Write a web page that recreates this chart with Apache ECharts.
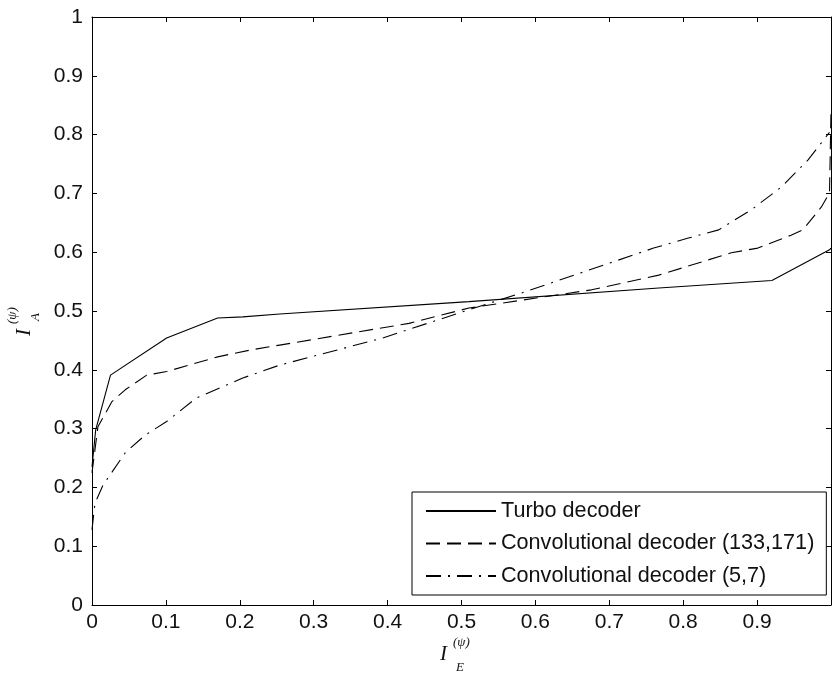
<!DOCTYPE html>
<html>
<head>
<meta charset="utf-8">
<script src="https://cdn.jsdelivr.net/npm/echarts@6/dist/echarts.min.js"></script>
<style>
html,body{margin:0;padding:0;background:#fff;}
#c{width:834px;height:675px;}
</style>
</head>
<body>
<div id="c"></div>
<script>
// Data
var turboX = [0, 0.005, 0.025, 0.101, 0.170, 0.204, 0.254, 0.510, 0.767, 0.920, 0.998, 1.0];
var turboY = [0.235, 0.298, 0.391, 0.454, 0.488, 0.490, 0.495, 0.516, 0.539, 0.552, 0.604, 0.607];

var conv133X = [0, 0.008, 0.027, 0.045, 0.074, 0.101, 0.170, 0.2155, 0.254, 0.429, 0.510, 0.676, 0.767, 0.865, 0.901, 0.946, 0.962, 0.987, 0.998, 1.0];
var conv133Y = [0.225, 0.303, 0.346, 0.366, 0.391, 0.397, 0.422, 0.434, 0.442, 0.479, 0.505, 0.536, 0.561, 0.599, 0.607, 0.629, 0.638, 0.677, 0.701, 0.84];

var conv57X = [0, 0.004, 0.015, 0.045, 0.072, 0.101, 0.141, 0.204, 0.254, 0.393, 0.510, 0.587, 0.760, 0.807, 0.848, 0.892, 0.933, 0.969, 0.998];
var conv57Y = [0.128, 0.173, 0.204, 0.259, 0.289, 0.312, 0.352, 0.386, 0.408, 0.454, 0.502, 0.533, 0.607, 0.624, 0.638, 0.672, 0.711, 0.757, 0.804];

var seriesNames = ['Turbo decoder', 'Convolutional decoder (133,171)', 'Convolutional decoder (5,7)'];
var xTicks = [0, 0.1, 0.2, 0.3, 0.4, 0.5, 0.6, 0.7, 0.8, 0.9];
var yTicks = [0, 0.1, 0.2, 0.3, 0.4, 0.5, 0.6, 0.7, 0.8, 0.9, 1];

function pairs(xs, ys) { return xs.map(function (x, i) { return [x, ys[i]]; }); }

var FONT = 'Liberation Sans, Arial, sans-serif';
var chart = echarts.init(document.getElementById('c'), null, {renderer: 'canvas'});

function fmt(v) {
  var r = Math.round(v * 10) / 10;
  if (r === 0) return '0';
  if (r === 1) return '1';
  return String(r);
}

var axisCommon = {
  type: 'value', min: 0, max: 1, interval: 0.1,
  axisLine: {show: true, onZero: false, lineStyle: {color: '#000', width: 1}},
  axisTick: {show: true, inside: true, length: 5, lineStyle: {color: '#000', width: 1}},
  splitLine: {show: false}
};

var option = {
  animation: false,
  backgroundColor: '#fff',
  grid: {left: 92, right: 1, top: 17, bottom: 70, containLabel: false},
  xAxis: [
    Object.assign({}, axisCommon, {
      position: 'bottom',
      axisLabel: {show: true, color: '#111', fontFamily: FONT, fontSize: 21, margin: 7,
        formatter: function (v) { return xTicks.indexOf(Math.round(v * 10) / 10) >= 0 ? fmt(v) : ''; }}
    }),
    Object.assign({}, axisCommon, {position: 'top', axisLabel: {show: false}})
  ],
  yAxis: [
    Object.assign({}, axisCommon, {
      position: 'left',
      axisLabel: {show: true, color: '#111', fontFamily: FONT, fontSize: 21, margin: 9,
        formatter: function (v) { return yTicks.indexOf(Math.round(v * 10) / 10) >= 0 ? fmt(v) : ''; }}
    }),
    Object.assign({}, axisCommon, {position: 'right', axisLabel: {show: false}})
  ],
  legend: {
    show: true,
    orient: 'vertical',
    left: 412, top: 492,
    padding: [7, 12, 7, 13],
    backgroundColor: '#fff',
    borderColor: '#000', borderWidth: 1,
    itemWidth: 70, itemHeight: 14, itemGap: 8.5,
    itemStyle: {opacity: 0, borderWidth: 0},
    textStyle: {color: '#111', fontFamily: FONT, fontSize: 21.6, lineHeight: 24},
    data: seriesNames
  },
  series: [
    {name: seriesNames[0], type: 'line', data: pairs(turboX, turboY), symbol: 'none', showSymbol: false,
     lineStyle: {color: '#000', width: 1.1, type: 'solid'}, itemStyle: {color: '#000'}, silent: true},
    {name: seriesNames[1], type: 'line', data: pairs(conv133X, conv133Y), symbol: 'none', showSymbol: false,
     lineStyle: {color: '#000', width: 1.1, type: [14, 7]}, itemStyle: {color: '#000'}, silent: true},
    {name: seriesNames[2], type: 'line', data: pairs(conv57X, conv57Y), symbol: 'none', showSymbol: false,
     lineStyle: {color: '#000', width: 1.1, type: [15, 7, 2, 7]}, itemStyle: {color: '#000'}, silent: true}
  ],
  graphic: [
    // x axis name: I_E^(psi)
    {type: 'group', left: 440, top: 636, children: [
      {type: 'text', x: 0, y: 10, style: {text: 'I', font: 'italic 21px "Liberation Serif", serif', fill: '#111'}},
      {type: 'text', x: 13, y: 2, style: {text: '(\u03C8)', font: 'italic 13px "Liberation Serif", serif', fill: '#111'}},
      {type: 'text', x: 16, y: 27, style: {text: 'E', font: 'italic 13px "Liberation Serif", serif', fill: '#111'}}
    ]},
    // y axis name: I_A^(psi) rotated
    {type: 'group', x: 14, y: 336, rotation: Math.PI / 2, children: [
      {type: 'text', x: 0, y: 0, style: {text: 'I', font: 'italic 21px "Liberation Serif", serif', fill: '#111'}},
      {type: 'text', x: 12, y: -8, style: {text: '(\u03C8)', font: 'italic 13px "Liberation Serif", serif', fill: '#111'}},
      {type: 'text', x: 15, y: 15, style: {text: 'A', font: 'italic 13px "Liberation Serif", serif', fill: '#111'}}
    ]}
  ]
};
chart.setOption(option);
</script>
</body>
</html>
